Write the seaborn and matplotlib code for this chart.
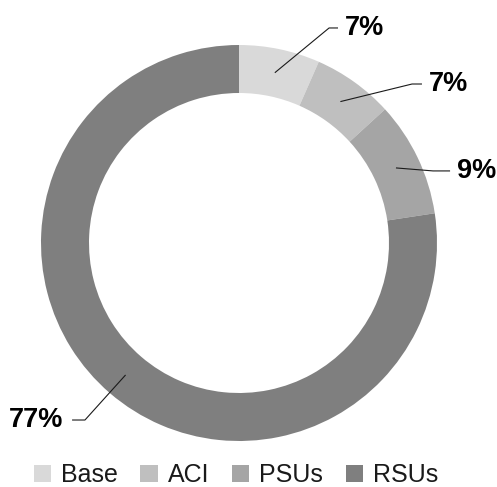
import numpy as np
import matplotlib
matplotlib.use("Agg")
import matplotlib.pyplot as plt
import matplotlib.patches as patches
import seaborn as sns

# data
categories = ["Base", "ACI", "PSUs", "RSUs"]
shares = [6.6, 6.6, 9.4, 77.4]

# style / layout
palette = sns.color_palette(["#d9d9d9", "#bfbfbf", "#a5a5a5", "#7f7f7f"])
RING = 48 / 198.0
# (elbow x, elbow y, line end x) in data units, radius 1 = outer edge
leaders = [(0.455, 1.086, 0.50),
           (0.874, 0.803, 0.924),
           (0.980, 0.364, 1.066),
           (-0.778, -0.894, -0.843)]

sns.set_theme(style="white")
plt.rcParams['font.family'] = ['Liberation Sans', 'DejaVu Sans']

fig = plt.figure(figsize=(4.97, 4.87), dpi=100)
ax = fig.add_axes([41 / 497, 46 / 487, 396 / 497, 396 / 487])

wedges, _ = ax.pie(shares, colors=palette, startangle=90, counterclock=False,
                   radius=1, wedgeprops=dict(width=RING, linewidth=0))
ax.set_xlim(-1, 1)
ax.set_ylim(-1, 1)
ax.set_aspect('auto')
ax.axis('off')

r_mid = 1 - RING / 2
for w, val, (ex, ey, lx) in zip(wedges, shares, leaders):
    ang = np.deg2rad((w.theta1 + w.theta2) / 2)
    px, py = r_mid * np.cos(ang), r_mid * np.sin(ang)
    ax.plot([px, ex, lx], [py, ey, ey], color='#1a1a1a', lw=0.8,
            clip_on=False, solid_capstyle='butt')
    if lx > ex:
        ax.text(lx + 0.035, ey, '{:.0f}%'.format(val), ha='left', va='center',
                fontsize=19.5, fontweight='bold', color='black', clip_on=False)
    else:
        ax.text(lx - 0.045, ey, '{:.0f}%'.format(val), ha='right', va='center',
                fontsize=19.5, fontweight='bold', color='black', clip_on=False)

handles = [patches.Patch(facecolor=c, edgecolor='none') for c in palette]
fig.legend(handles, categories, loc='center', bbox_to_anchor=(0.475, 0.024),
           ncol=4, frameon=False, fontsize=18, handlelength=0.7,
           handleheight=0.7, handletextpad=0.4, columnspacing=0.9,
           borderpad=0, labelcolor='#1a1a1a')

fig.savefig('out.png', dpi=100)
